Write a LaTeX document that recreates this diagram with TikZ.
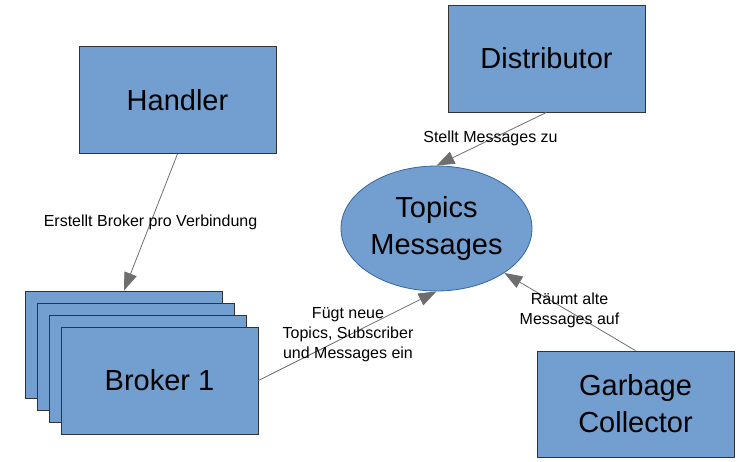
\documentclass[tikz,border=0pt]{standalone}
\usepackage{fontspec}
\setmainfont{Liberation Sans}
\usetikzlibrary{shapes.geometric,arrows.meta}
\definecolor{boxfill}{HTML}{729FCF}
\definecolor{boxline}{HTML}{333333}
\definecolor{ellline}{HTML}{3465A4}
\definecolor{arrowcol}{HTML}{6E6E6E}
\begin{document}
\begin{tikzpicture}[x=1pt,y=-1pt,
  box/.style={draw=boxline, fill=boxfill, line width=0.8pt, minimum width=197pt,
    minimum height=107pt, inner sep=0pt, align=center, font=\fontsize{29}{37}\selectfont},
  store/.style={ellipse, draw=ellline, fill=boxfill, line width=0.8pt, minimum width=191pt,
    minimum height=125pt, inner sep=0pt, align=center, font=\fontsize{29}{37}\selectfont},
  conn/.style={draw=arrowcol, line width=0.8pt, -{Triangle[length=18pt,width=13pt]}},
  lbl/.style={align=center, inner sep=0pt, font=\fontsize{16}{20}\selectfont}]
\useasboundingbox (0,0) rectangle (745,462);
\node[box] (handler) at (177.5,100) {Handler};
\node[box] (distributor) at (546.5,58.5) {Distributor};
\node[box] (b1) at (124,344.5) {};
\node[box] (b2) at (135.8,356.5) {};
\node[box] (b3) at (147.7,368.5) {};
\node[box] (b4) at (159.5,380.5) {Broker 1};
\node[box, minimum height=106pt] (gc) at (635.5,404) {Garbage\\Collector};
\node[store] (topics) at (436.5,228.5) {Topics\\Messages};
\draw[conn] (handler.south) -- (b1.north);
\draw[conn] (distributor.south) -- (topics.north);
\draw[conn] (b4.east) -- (topics.south);
\draw[conn] (gc.north) -- (topics.south east);
\node[lbl] (l1) at (150.5,222.5) {Erstellt Broker pro Verbindung};
\node[lbl] (l2) at (490.5,138.5) {Stellt Messages zu};
\node[lbl] (l3) at (348,335) {Fügt neue\\Topics, Subscriber\\und Messages ein};
\node[lbl] (l4) at (569.5,310) {Räumt alte\\Messages auf};
\end{tikzpicture}
\end{document}
